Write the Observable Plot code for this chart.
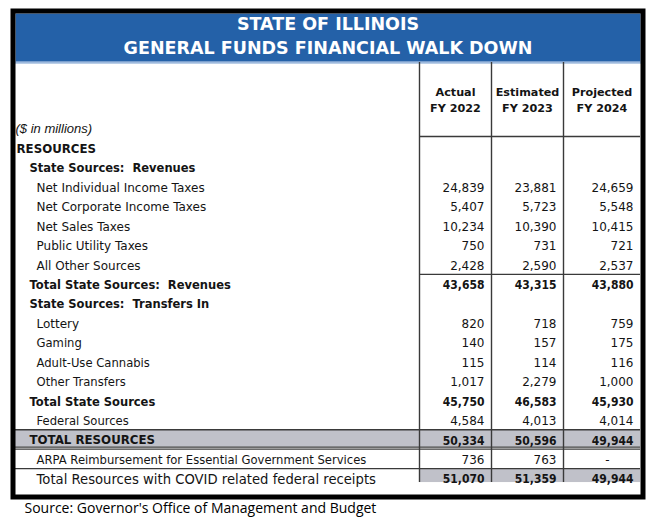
<!DOCTYPE html>
<html><head><meta charset="utf-8">
<script src="https://cdn.jsdelivr.net/npm/d3@7"></script>
<script src="https://cdn.jsdelivr.net/npm/@observablehq/plot@0.6"></script>
<style>
html,body{margin:0;padding:0;background:#fff;}
</style></head><body><div id="chart"></div>
<script>
// ---------- data ----------
const titleLines = ["STATE OF ILLINOIS", "GENERAL FUNDS FINANCIAL WALK DOWN"];
const headTop = ["Actual", "Estimated", "Projected"];
const headBottom = ["FY 2022", "FY 2023", "FY 2024"];
const unitsNote = "($ in millions)";
const sourceNote = "Source: Governor's Office of Management and Budget";
const labels = [
  "RESOURCES",
  "State Sources:\u00a0 Revenues",
  "Net Individual Income Taxes",
  "Net Corporate Income Taxes",
  "Net Sales Taxes",
  "Public Utility Taxes",
  "All Other Sources",
  "Total State Sources:\u00a0 Revenues",
  "State Sources:\u00a0 Transfers In",
  "Lottery",
  "Gaming",
  "Adult-Use Cannabis",
  "Other Transfers",
  "Total State Sources",
  "Federal Sources",
  "TOTAL RESOURCES",
  "ARPA Reimbursement for Essential Government Services",
  "Total Resources with COVID related federal receipts"
];
const kinds = ["section","group","item","item","item","item","item","subtotal","group",
  "item","item","item","item","subtotal","item","grand","item","final"];
const fy2022 = [null,null,24839,5407,10234,750,2428,43658,null,820,140,115,1017,45750,4584,50334,736,51070];
const fy2023 = [null,null,23881,5723,10390,731,2590,43315,null,718,157,114,2279,46583,4013,50596,763,51359];
const fy2024 = [null,null,24659,5548,10415,721,2537,43880,null,759,175,116,1000,45930,4014,49944,0,49944];

// ---------- layout ----------
const W = 655, H = 530;
const colEdges = [419, 491, 563, 640];
const innerL = 15, innerR = 640;
const bandBottom = 62, headBottomY = 136;
const rowScale = Plot.scale({y: {type: "band", domain: d3.range(labels.length), range: [136, 487.5]}});
const bw = rowScale.bandwidth;
const rowTop = i => rowScale.apply(i);
const rowMid = i => rowScale.apply(i) + bw / 2 + 2.2;
const series = [fy2022, fy2023, fy2024];
const fmt = d3.format(",");
const ink = "#141414";
const lineCol = "#3a3a3a";

const rows = labels.map((label, i) => ({i, label, kind: kinds[i]}));
const indent = {section: 16, group: 29, subtotal: 29, grand: 29, item: 36, final: 36};
const boldLabel = r => ["section","group","subtotal","grand"].includes(r.kind);
const labelSize = r => boldLabel(r) ? (r.kind === "section" || r.kind === "grand" ? 11.8 : 11.5)
  : r.kind === "final" ? 13.2 : r.i === 16 ? 11.6 : r.i >= 10 ? 11.6 : 12;

const cells = series.flatMap((vals, j) => vals.map((v, i) => ({i, j, v, kind: kinds[i]})).filter(d => d.v != null));
const boldNum = d => ["subtotal","grand","final"].includes(d.kind);

const heads = headTop.map((t, j) => ({j, top: t, bottom: headBottom[j]}));

const sans = "DejaVu Sans";

const chart = Plot.plot({
  width: W, height: H, margin: 0,
  x: {type: "identity", axis: null}, y: {type: "identity", axis: null},
  marks: [
    // blue title band
    Plot.frame({fill: "#2461A8", stroke: null, insetLeft: innerL, insetRight: W - innerR, insetTop: 13, insetBottom: H - bandBottom}),
    Plot.frame({stroke: "#9DB9DD", strokeWidth: 1.2, fill: null, insetLeft: innerL, insetRight: W - innerR, insetTop: bandBottom - 0.6, insetBottom: H - bandBottom - 0.6}),
    // gray bands
    Plot.rect(rows.filter(r => r.kind === "grand"), {x1: innerL, x2: innerR, y1: r => rowTop(r.i), y2: r => rowTop(r.i) + bw, fill: "#C0C1C9"}),
    Plot.rect(rows.filter(r => r.kind === "final"), {x1: colEdges[0], x2: innerR, y1: r => rowTop(r.i), y2: r => rowTop(r.i) + bw - 3.5, fill: "#C0C1C9"}),
    // vertical column lines
    Plot.ruleX(colEdges.slice(0, 3), {x: d => d, y1: bandBottom, y2: rowTop(labels.length - 1) + bw - 3.5, stroke: lineCol, strokeWidth: 1.4}),
    // header bottom line
    Plot.ruleY([headBottomY], {y: d => d, x1: colEdges[0], x2: innerR, stroke: lineCol, strokeWidth: 1.3}),
    // line above first subtotal (columns only)
    Plot.ruleY(rows.filter(r => r.i === 7), {y: r => rowTop(r.i), x1: colEdges[0], x2: innerR, stroke: lineCol, strokeWidth: 1.3}),
    // full-width lines around grand total and ARPA
    Plot.ruleY(rows.filter(r => r.i >= 15), {y: r => rowTop(r.i), x1: innerL - 2, x2: innerR, stroke: lineCol, strokeWidth: 1.3}),
    Plot.ruleY(rows.filter(r => r.kind === "grand"), {y: r => rowTop(r.i) + bw, x1: innerL - 2, x2: innerR, stroke: lineCol, strokeWidth: 1.3}),
    // outer black frame
    Plot.frame({stroke: "#000", strokeWidth: 5, fill: null, insetLeft: 12.5, insetRight: W - 642.5, insetTop: 10.5, insetBottom: H - 496.5}),
    // title
    Plot.text(titleLines, {x: (innerL + innerR) / 2, y: (d, i) => i === 0 ? 24 : 47.5, text: d => d, fill: "#fff",
      fontFamily: sans, fontWeight: "bold", fontSize: 17.5, textAnchor: "middle"}),
    // column headers
    Plot.text(heads, {x: d => (colEdges[d.j] + colEdges[d.j + 1]) / 2, y: 92, text: "top", fill: ink,
      fontFamily: sans, fontWeight: "bold", fontSize: 11.2, textAnchor: "middle"}),
    Plot.text(heads, {x: d => (colEdges[d.j] + colEdges[d.j + 1]) / 2, y: 108, text: "bottom", fill: ink,
      fontFamily: sans, fontWeight: "bold", fontSize: 11.2, textAnchor: "middle"}),
    // units note
    Plot.text([unitsNote], {x: 15, y: 128.5, text: d => d, fill: ink, fontFamily: "Liberation Sans", fontStyle: "italic", fontSize: 13, textAnchor: "start"}),
    // row labels
    Plot.text(rows.filter(boldLabel), {x: r => indent[r.kind], y: r => rowMid(r.i), text: "label", fill: ink,
      fontFamily: sans, fontWeight: "bold", fontSize: labelSize, textAnchor: "start"}),
    Plot.text(rows.filter(r => !boldLabel(r)), {x: r => indent[r.kind], y: r => rowMid(r.i), text: "label", fill: ink,
      fontFamily: sans, fontSize: labelSize, textAnchor: "start"}),
    // numbers
    Plot.text(cells.filter(d => d.v !== 0 && !boldNum(d)), {x: d => colEdges[d.j + 1] - 7, y: d => rowMid(d.i), text: d => fmt(d.v), fill: ink,
      fontFamily: sans, fontSize: 12, textAnchor: "end"}),
    Plot.text(cells.filter(d => d.v !== 0 && boldNum(d)), {x: d => colEdges[d.j + 1] - 7, y: d => rowMid(d.i), text: d => fmt(d.v), fill: ink,
      fontFamily: "DejaVu Sans Condensed", fontWeight: "bold", fontSize: 12, textAnchor: "end"}),
    Plot.text(cells.filter(d => d.v === 0), {x: d => colEdges[d.j + 1] - 33, y: d => rowMid(d.i), text: () => "-", fill: ink,
      fontFamily: sans, fontSize: 12, textAnchor: "middle"}),
    // source
    Plot.text([sourceNote], {x: 24, y: 508, text: d => d, fill: "#000", fontFamily: "Open Sans", fontSize: 14, textAnchor: "start"})
  ]
});
document.getElementById("chart").appendChild(chart);
</script>
</body></html>
